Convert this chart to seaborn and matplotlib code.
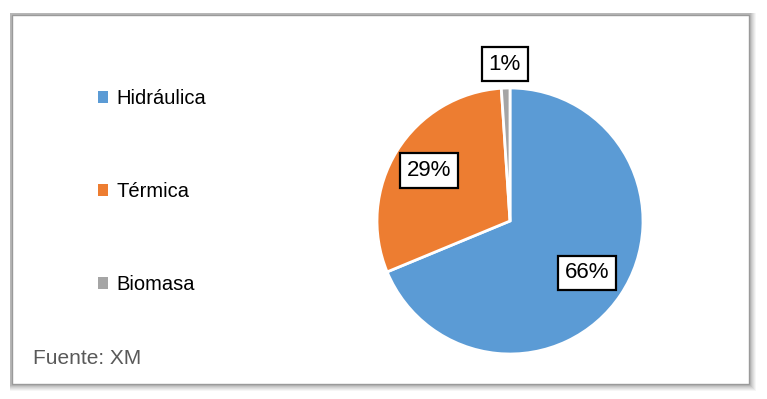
import matplotlib
matplotlib.use("Agg")
import matplotlib.pyplot as plt
import seaborn as sns
import numpy as np
from matplotlib.patches import Rectangle, Patch

categories = ["Hidráulica", "Térmica", "Biomasa"]
values = [66, 29, 1]
pct_labels = ["66%", "29%", "1%"]
colors = ["#5B9BD5", "#ED7D31", "#A5A5A5"]
source = "Fuente: XM"

sns.set_theme(style="white")
plt.rcParams["font.family"] = ["Liberation Sans", "DejaVu Sans"]
plt.rcParams["text.color"] = "black"

W, H = 767, 399
fig = plt.figure(figsize=(W / 100, H / 100), dpi=100)
fig.patch.set_facecolor("white")

# frame with soft shadow
x0, y0, x1, y1 = 12, 15, 749, 384
for off, a in [(7, 0.08), (6, 0.10), (5, 0.12), (4, 0.15), (3, 0.2), (2, 0.25)]:
    fig.add_artist(Rectangle(((x0 - 2) / W, 1 - (y1 + off) / H),
                             (x1 - x0 + 2 + off) / W, (y1 - y0 + off + 2) / H,
                             transform=fig.transFigure, facecolor="#909090",
                             edgecolor="none", alpha=a, zorder=0))
fig.add_artist(Rectangle((x0 / W, 1 - y1 / H), (x1 - x0) / W, (y1 - y0) / H,
                         transform=fig.transFigure, facecolor="white",
                         edgecolor="#9A9A9A", linewidth=1.0, zorder=1))

# pie axes
cx, cy, r = 510, 221, 133
ax = fig.add_axes([(cx - r) / W, 1 - (cy + r) / H, 2 * r / W, 2 * r / H], zorder=2)
wedges, _ = ax.pie(values, colors=colors, startangle=90, counterclock=False,
                   wedgeprops=dict(edgecolor="white", linewidth=2))
ax.set_aspect("equal")
ax.set_xlim(-1, 1)
ax.set_ylim(-1, 1)
ax.axis("off")

dists = [0.70, 0.72, 1.18]
for w, lab, d in zip(wedges, pct_labels, dists):
    ang = np.deg2rad((w.theta1 + w.theta2) / 2)
    ax.text(d * np.cos(ang), d * np.sin(ang), lab, ha="center", va="center",
            fontsize=16, color="black", clip_on=False,
            bbox=dict(boxstyle="square,pad=0.3", facecolor="white",
                      edgecolor="black", linewidth=1.6))

handles = [Patch(facecolor=c, edgecolor="none") for c in colors]
leg = fig.legend(handles, categories, loc="upper left",
                 bbox_to_anchor=(80 / W, 1 - 71 / H), frameon=False,
                 fontsize=14.5, labelspacing=3.68, handlelength=0.5,
                 handleheight=0.5, handletextpad=0.4, labelcolor="black")
leg.set_zorder(3)

fig.text(33 / W, 1 - 358 / H, source, fontsize=15, color="#595959",
         ha="left", va="center", zorder=3)

fig.savefig("out.png", dpi=100, facecolor="white")
